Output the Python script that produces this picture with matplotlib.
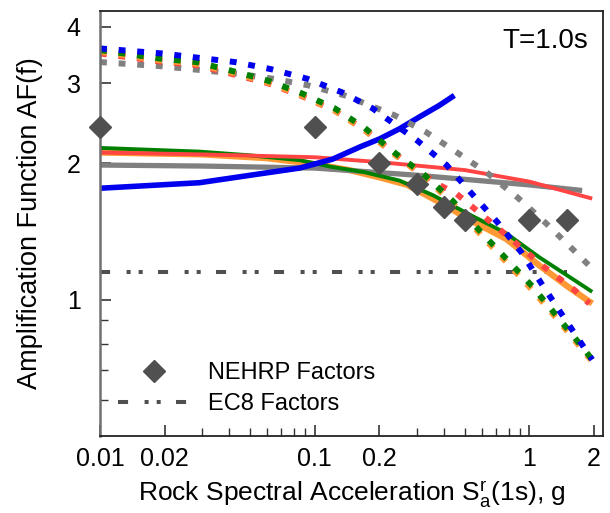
import matplotlib
matplotlib.use("Agg")
import matplotlib.pyplot as plt
from matplotlib.ticker import FixedLocator, NullFormatter

plt.rcParams['font.family'] = ['Liberation Sans', 'DejaVu Sans']
plt.rcParams['mathtext.fontset'] = 'custom'
plt.rcParams['mathtext.rm'] = 'Liberation Sans'

# model curves (solid)
blue_x = [0.01, 0.029, 0.05, 0.085, 0.121, 0.162, 0.2, 0.248, 0.308, 0.38, 0.447]
blue_y = [1.76, 1.81, 1.88, 1.95, 2.04, 2.17, 2.26, 2.38, 2.53, 2.68, 2.82]
gray_x = [0.01, 0.03, 0.1, 0.3, 1.0, 1.76]
gray_y = [1.98, 1.97, 1.95, 1.88, 1.79, 1.74]
red_x = [0.01, 0.03, 0.1, 0.2, 0.5, 1.0, 1.96]
red_y = [2.11, 2.09, 2.06, 2.01, 1.93, 1.82, 1.67]
green_x = [0.01, 0.029, 0.05, 0.085, 0.121, 0.17, 0.248, 0.354, 0.54, 0.78, 1.11, 1.5, 1.96]
green_y = [2.16, 2.12, 2.08, 2.03, 1.96, 1.91, 1.83, 1.70, 1.53, 1.40, 1.24, 1.13, 1.04]
orange_x = [0.01, 0.03, 0.06, 0.1, 0.145, 0.2, 0.27, 0.38, 0.54, 0.78, 1.11, 1.5, 1.96]
orange_y = [2.11, 2.09, 2.05, 1.99, 1.93, 1.86, 1.79, 1.64, 1.49, 1.36, 1.19, 1.07, 0.98]

# model curves (dotted)
blue_dot_x = [0.01, 0.0194, 0.0425, 0.063, 0.092, 0.135, 0.186, 0.301, 0.411, 0.54, 0.71, 0.918, 1.137, 1.41, 1.96]
blue_dot_y = [3.58, 3.49, 3.34, 3.22, 3.07, 2.86, 2.64, 2.24, 1.98, 1.71, 1.48, 1.27, 1.085, 0.93, 0.737]
gray_dot_x = [0.01, 0.0194, 0.0434, 0.0637, 0.0927, 0.138, 0.235, 0.33, 0.46, 0.638, 0.879, 1.2, 1.62, 1.96]
gray_dot_y = [3.34, 3.27, 3.15, 3.07, 2.97, 2.82, 2.55, 2.34, 2.11, 1.90, 1.68, 1.47, 1.28, 1.17]
green_dot_x = [0.01, 0.019, 0.0282, 0.0416, 0.0604, 0.087, 0.124, 0.171, 0.235, 0.325, 0.439, 0.585, 0.78, 1.03, 1.335, 1.746, 1.96]
green_dot_y = [3.55, 3.40, 3.34, 3.19, 3.04, 2.85, 2.64, 2.39, 2.11, 1.88, 1.65, 1.42, 1.23, 1.07, 0.922, 0.79, 0.737]
orange_dot_x = [0.01, 0.019, 0.0282, 0.0416, 0.0604, 0.087, 0.124, 0.171, 0.235, 0.325, 0.439, 0.585, 0.78, 1.03, 1.335, 1.746, 1.96]
orange_dot_y = [3.52, 3.37, 3.31, 3.16, 3.01, 2.82, 2.61, 2.36, 2.09, 1.86, 1.63, 1.40, 1.21, 1.05, 0.91, 0.78, 0.73]
red_dot_x = [0.01, 0.019, 0.0282, 0.0416, 0.0604, 0.087, 0.124, 0.171, 0.235, 0.325, 0.38, 0.458, 0.63, 0.852, 1.17, 1.62, 1.9]
red_dot_y = [3.49, 3.35, 3.29, 3.14, 3.00, 2.81, 2.61, 2.37, 2.10, 1.88, 1.79, 1.71, 1.51, 1.34, 1.18, 1.05, 0.98]

# code factors
nehrp_x = [0.01, 0.1, 0.2, 0.3, 0.4, 0.5, 1.0, 1.5]
nehrp_y = [2.4, 2.4, 2.0, 1.8, 1.6, 1.5, 1.5, 1.5]
ec8_x = [0.01, 1.5]
ec8_y = [1.15, 1.15]

x_ticks = [0.01, 0.02, 0.1, 0.2, 1, 2]
x_tick_labels = ['0.01', '0.02', '0.1', '0.2', '1', '2']
y_ticks = [1, 2, 3, 4]
y_tick_labels = ['1', '2', '3', '4']

fig = plt.figure(figsize=(6.10, 5.13), dpi=100)
ax = fig.add_axes([0.164, 0.150, 0.8245, 0.8286])

# EC8 first so the curves pass over it
ax.plot(ec8_x, ec8_y, color='#505050', lw=2.9, ls=(0, (2.5, 4.1, 1.0, 2.0, 1.0, 3.8)),
        label='EC8 Factors', zorder=1)

# solid lines
ax.plot(orange_x, orange_y, color='#ff9933', lw=4.5, solid_capstyle='butt')
ax.plot(gray_x, gray_y, color='#808080', lw=3.8, solid_capstyle='butt')
ax.plot(green_x, green_y, color='#008000', lw=2.8, solid_capstyle='butt')
ax.plot(red_x, red_y, color='#ff4444', lw=2.8, solid_capstyle='butt')
ax.plot(blue_x, blue_y, color='#0000ee', lw=4.0, solid_capstyle='butt')

# dotted lines
dots = (0, (1.15, 1.97))
ax.plot(gray_dot_x, gray_dot_y, color='#808080', lw=4.3, ls=dots)
ax.plot(red_dot_x, red_dot_y, color='#ff4444', lw=4.3, ls=dots)
ax.plot(orange_dot_x, orange_dot_y, color='#ff9933', lw=4.3, ls=dots)
ax.plot(green_dot_x, green_dot_y, color='#008000', lw=4.3, ls=dots)
ax.plot(blue_dot_x, blue_dot_y, color='#0000ee', lw=4.3, ls=dots)

ax.plot(nehrp_x, nehrp_y, ls='none', marker='D', ms=11, color='#505050',
        clip_on=False, zorder=5, label='NEHRP Factors')

ax.set_xscale('log')
ax.set_yscale('log')
ax.set_xlim(0.01, 2.2)
ax.set_ylim(0.5, 4.33)

ax.xaxis.set_major_locator(FixedLocator(x_ticks))
ax.set_xticklabels(x_tick_labels)
ax.xaxis.set_minor_locator(FixedLocator([0.03, 0.04, 0.05, 0.06, 0.07, 0.08, 0.09,
                                         0.3, 0.4, 0.5, 0.6, 0.7, 0.8, 0.9]))
ax.xaxis.set_minor_formatter(NullFormatter())
ax.yaxis.set_major_locator(FixedLocator(y_ticks))
ax.set_yticklabels(y_tick_labels)
ax.yaxis.set_minor_locator(FixedLocator([0.6, 0.7, 0.8, 0.9]))
ax.yaxis.set_minor_formatter(NullFormatter())

ax.tick_params(which='both', direction='in', labelsize=18, color='#333333')
ax.tick_params(which='major', length=8, width=1.2)
ax.tick_params(which='minor', length=6, width=1.0)
ax.tick_params(axis='x', pad=8)
ax.tick_params(axis='y', pad=14)
for side in ['top', 'right', 'bottom']:
    ax.spines[side].set_color('#222222')
    ax.spines[side].set_linewidth(1.3)
ax.spines['left'].set_color('#707070')
ax.spines['left'].set_linewidth(1.8)

ax.set_xlabel(r'Rock Spectral Acceleration $\mathregular{S_a^r}$(1s), g', fontsize=19, labelpad=6)
ax.set_ylabel('Amplification Function AF(f)', fontsize=19.5, labelpad=17)

ax.text(0.97, 0.93, 'T=1.0s', transform=ax.transAxes, fontsize=20,
        ha='right', va='center')

handles, labels = ax.get_legend_handles_labels()
ax.legend(handles[::-1], labels[::-1], loc='lower left', bbox_to_anchor=(-0.006, 0.0),
          frameon=False, fontsize=17, handlelength=3.0, handletextpad=0.8,
          labelspacing=0.38, numpoints=1)

fig.savefig('out.png', dpi=100)
